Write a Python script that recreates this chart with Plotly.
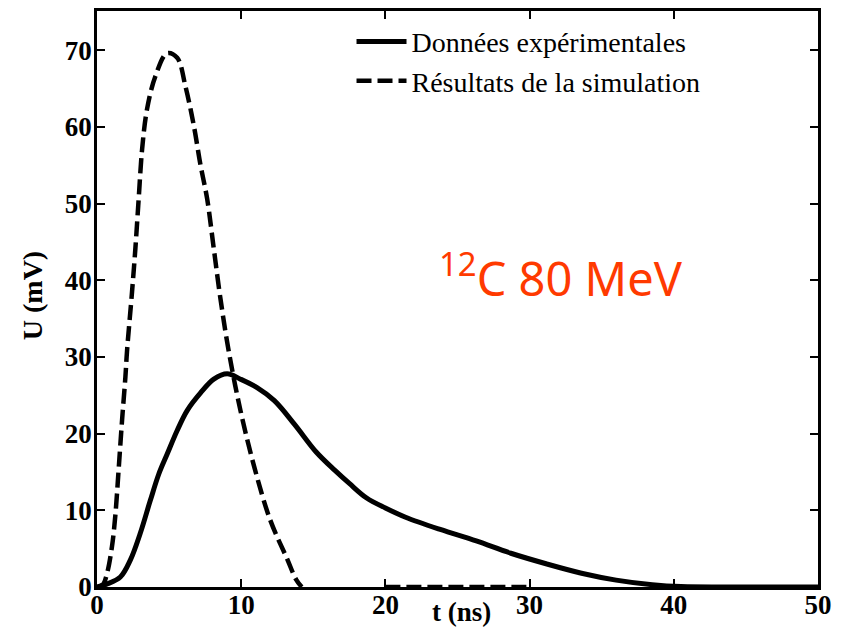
import plotly.graph_objects as go

# Experimental data (solid)
t_exp = [0, 0.7, 1.62, 2.31, 3.0, 3.7, 4.28, 4.86, 5.56, 6.25, 7.18, 8.1, 9.03, 9.95, 11.1,
         12.3, 13.7, 15.2, 16.5, 17.5, 18.7, 20.0, 21.4, 23.8, 26.3, 28.7, 31.2, 33.6, 36.0,
         38.5, 40.5, 45, 50]
u_exp = [0, 0.4, 1.3, 3.5, 7.0, 11.3, 14.7, 17.3, 20.4, 23.0, 25.3, 27.1, 27.8, 27.1, 26.0,
         24.3, 21.2, 17.6, 15.2, 13.5, 11.6, 10.3, 9.1, 7.5, 6.0, 4.4, 3.0, 1.8, 0.9,
         0.3, 0.05, 0, 0]

# Simulation results (dashed)
t_sim = [0, 0.4, 0.7, 1.04, 1.27, 1.5, 1.74, 1.97, 2.08, 2.43, 2.66, 2.89, 3.13, 3.47, 4.05,
         4.86, 5.56, 6.13, 6.71, 7.18, 7.64, 8.1, 8.56, 9.14, 9.95, 10.9, 12.0, 13.2, 13.8,
         14.2, None, 20, 30]
u_sim = [0, 0.3, 1.8, 5.3, 9.3, 15.3, 21.8, 27.4, 30.7, 38.5, 44.1, 50.6, 57.1, 62.3, 66.6,
         69.6, 69.0, 65.3, 60.2, 55.0, 50.6, 44.1, 37.6, 30.7, 23.0, 15.7, 8.8, 3.6, 1.0,
         0, None, 0, 0]

x_ticks = [0, 10, 20, 30, 40, 50]
y_ticks = [0, 10, 20, 30, 40, 50, 60, 70]

serif = "Liberation Serif"

fig = go.Figure()
fig.add_trace(go.Scatter(x=t_exp, y=u_exp, mode="lines", name="Données expérimentales",
                         line=dict(color="black", width=5, shape="spline", smoothing=1.0)))
fig.add_trace(go.Scatter(x=t_sim, y=u_sim, mode="lines", name="Résultats de la simulation",
                         connectgaps=False,
                         line=dict(color="black", width=4.5, dash="15px,6px",
                                   shape="spline", smoothing=1.0)))

axis_common = dict(showline=True, linecolor="black", linewidth=2.5, mirror="ticks",
                   ticks="inside", ticklen=8, tickwidth=2, tickcolor="black",
                   showgrid=False, zeroline=False,
                   tickfont=dict(family=serif, size=27, color="black", weight="bold"))

fig.update_layout(
    width=853, height=625,
    margin=dict(l=89, r=43, t=0, b=46),
    paper_bgcolor="white", plot_bgcolor="white",
    xaxis=dict(range=[0, 50], tickvals=x_ticks, ticklabelstandoff=-8, **axis_common),
    yaxis=dict(range=[0, 75.1], tickvals=y_ticks, ticklabelstandoff=-3, **axis_common),
    legend=dict(x=0.353, y=0.99, xanchor="left", yanchor="top", bgcolor="rgba(0,0,0,0)",
                font=dict(family=serif, size=28, color="black"),
                tracegroupgap=0, itemwidth=50),
    showlegend=True,
)

fig.add_annotation(text="U (mV)", xref="paper", yref="paper", x=-0.09, y=0.505,
                   xanchor="center", yanchor="middle",
                   textangle=-90, showarrow=False,
                   font=dict(family=serif, size=28, color="black", weight="bold"))
fig.add_annotation(text="t (ns)", xref="paper", yref="paper", x=0.506, y=-0.043,
                   xanchor="center", yanchor="middle",
                   showarrow=False,
                   font=dict(family=serif, size=27, color="black", weight="bold"))
fig.add_annotation(text="<sup>12</sup>C 80 MeV", xref="paper", yref="paper", x=0.643, y=0.54,
                   xanchor="center", yanchor="middle",
                   showarrow=False,
                   font=dict(family="Noto Sans", size=47, color="#FF3A00"))

fig.write_html("out.html")
